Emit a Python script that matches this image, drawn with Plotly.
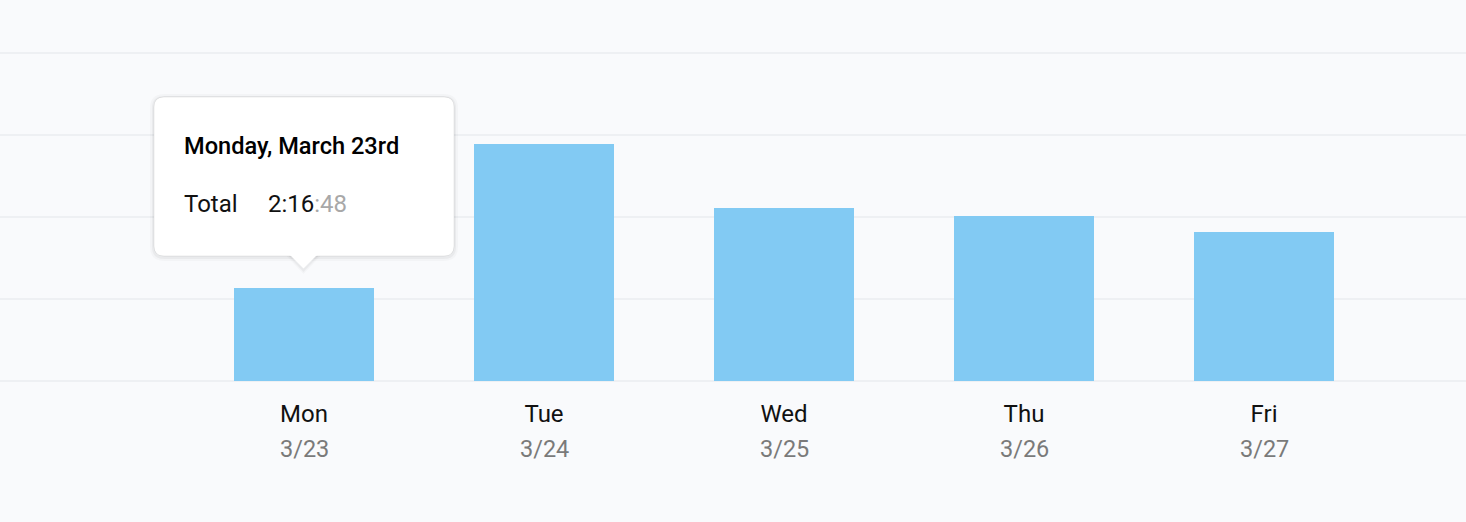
import plotly.graph_objects as go

# ---- data ----
days = ["Mon", "Tue", "Wed", "Thu", "Fri"]
dates = ["3/23", "3/24", "3/25", "3/26", "3/27"]
hours = [2.28, 5.78, 4.22, 4.02, 3.63]   # 2:16:48 for Monday
tip_title = "Monday, March 23rd"
tip_label = "Total"
tip_hm = "2:16"
tip_sec = ":48"

W, H = 1466, 522
TOP, BASE = 48, 381          # plot area in pixels
PXH = 41                     # pixels per hour
BG = "#f9fafc"
BAR = "#82caf3"
GRID = "#eef0f3"
FONT = "Roboto"

x_idx = list(range(len(days)))

fig = go.Figure()
fig.add_trace(go.Bar(x=x_idx, y=hours, marker=dict(color=BAR, line=dict(width=0)),
                     width=140 / 240, hoverinfo="skip"))

def px(x):  # pixel x -> paper
    return x / W

def py(y):  # pixel y -> paper
    return (BASE - y) / (BASE - TOP)

def rrect(x0, y0, x1, y1, r):
    return (f"M{px(x0 + r)},{py(y0)} L{px(x1 - r)},{py(y0)} Q{px(x1)},{py(y0)} {px(x1)},{py(y0 + r)} "
            f"L{px(x1)},{py(y1 - r)} Q{px(x1)},{py(y1)} {px(x1 - r)},{py(y1)} "
            f"L{px(x0 + r)},{py(y1)} Q{px(x0)},{py(y1)} {px(x0)},{py(y1 - r)} "
            f"L{px(x0)},{py(y0 + r)} Q{px(x0)},{py(y0)} {px(x0 + r)},{py(y0)} Z")

def tri(cx, ytop, h, w):
    return f"M{px(cx - w / 2)},{py(ytop)} L{px(cx)},{py(ytop + h)} L{px(cx + w / 2)},{py(ytop)} Z"

shapes = []
bx0, by0, bx1, by1 = 154, 97, 454, 256
cx = 303.5
# soft shadow
for g, a in [(4, 0.025), (2, 0.04)]:
    shapes.append(dict(type="path", xref="paper", yref="paper",
                       path=rrect(bx0 - g, by0 - g + 1, bx1 + g, by1 + g + 1, 10 + g),
                       fillcolor=f"rgba(0,0,0,{a})", line=dict(width=0), layer="above"))
    shapes.append(dict(type="path", xref="paper", yref="paper",
                       path=tri(cx, by1 - 1, 15 + g, 28 + 2 * g),
                       fillcolor=f"rgba(0,0,0,{a})", line=dict(width=0), layer="above"))
shapes.append(dict(type="path", xref="paper", yref="paper",
                   path=rrect(bx0, by0, bx1, by1, 10),
                   fillcolor="#ffffff", line=dict(color="rgba(0,0,0,0.07)", width=1), layer="above"))
shapes.append(dict(type="path", xref="paper", yref="paper",
                   path=tri(cx, by1 - 1.5, 14, 28),
                   fillcolor="#ffffff", line=dict(width=0), layer="above"))

annotations = []
for i, d in zip(x_idx, dates):
    annotations.append(dict(x=i, xref="x", y=py(449), yref="paper", text=d, showarrow=False,
                            xanchor="center", yanchor="middle",
                            font=dict(family=FONT, size=23.5, color="#7a7a7a")))
annotations.append(dict(x=px(182), xref="paper", y=py(146), yref="paper", text=tip_title,
                        showarrow=False, xanchor="left", yanchor="middle",
                        font=dict(family=FONT, size=23.6, color="#000000", weight=500)))
annotations.append(dict(x=px(182), xref="paper", y=py(204), yref="paper", text=tip_label,
                        showarrow=False, xanchor="left", yanchor="middle",
                        font=dict(family=FONT, size=24, color="#111111")))
annotations.append(dict(x=px(266), xref="paper", y=py(204), yref="paper",
                        text=f"{tip_hm}<span style='color:#a8a8a8'>{tip_sec}</span>",
                        showarrow=False, xanchor="left", yanchor="middle",
                        font=dict(family=FONT, size=24, color="#111111")))

fig.update_layout(
    width=W, height=H,
    margin=dict(l=0, r=0, t=TOP, b=H - BASE, pad=0),
    paper_bgcolor=BG, plot_bgcolor=BG,
    showlegend=False, bargap=0,
    shapes=shapes, annotations=annotations,
    xaxis=dict(range=[-304 / 240, (W - 304) / 240], tickvals=x_idx, ticktext=days,
               showgrid=False, zeroline=False, showline=False, ticks="",
               ticklabelstandoff=16,
               tickfont=dict(family=FONT, size=24, color="#111111"), fixedrange=True),
    yaxis=dict(range=[0, (BASE - TOP) / PXH], dtick=2, showgrid=True, gridcolor=GRID, gridwidth=2,
               zeroline=True, zerolinecolor=GRID, zerolinewidth=2,
               showticklabels=False, ticks="", fixedrange=True),
)

fig.write_html(
    "out.html",
    config={"displayModeBar": False},
    post_script="document.body.style.margin='0';document.body.style.overflow='hidden';"
                "document.body.style.background='" + BG + "';",
)
